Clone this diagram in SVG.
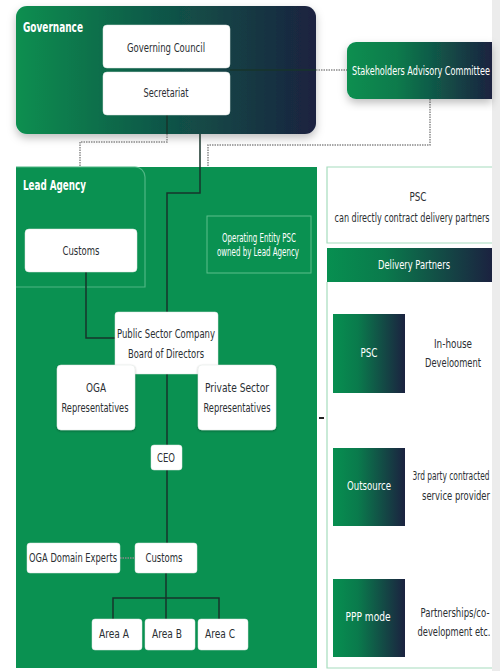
<svg xmlns="http://www.w3.org/2000/svg" width="500" height="671" viewBox="0 0 500 671">
<defs>
<linearGradient id="gov" x1="0" y1="0" x2="1" y2="0">
<stop offset="0" stop-color="#078f50"/><stop offset="0.45" stop-color="#0f5a48"/><stop offset="1" stop-color="#1b2240"/>
</linearGradient>
<linearGradient id="gb" x1="0" y1="0" x2="1" y2="0">
<stop offset="0" stop-color="#078f50"/><stop offset="0.35" stop-color="#0a7a4c"/><stop offset="1" stop-color="#1b2240"/>
</linearGradient>
<filter id="sh" x="-10%" y="-10%" width="120%" height="130%">
<feDropShadow dx="0" dy="4" stdDeviation="4" flood-color="#000" flood-opacity="0.25"/>
</filter>
<filter id="sh2" x="-10%" y="-10%" width="120%" height="130%">
<feDropShadow dx="0" dy="1" stdDeviation="1" flood-color="#000" flood-opacity="0.3"/>
</filter>
</defs>
<style>
text{font-family:"DejaVu Sans Condensed","Liberation Sans",sans-serif;font-size:13px;text-anchor:middle}
.d{fill:#2b2f33}
.w{fill:#ffffff}
.b{font-weight:bold;text-anchor:start;font-size:14px}
.box{fill:#ffffff;stroke:#dfe6e2;stroke-width:0.5}
.ln{fill:none;stroke:#17352b;stroke-width:1.5}
.dot{fill:none;stroke:#8a8a8a;stroke-width:1.5;stroke-dasharray:1.5 1}
.lg{fill:none;stroke:#a6dcbd;stroke-width:1.2}
</style>
<rect x="0" y="0" width="500" height="671" fill="#ffffff"/>
<rect x="492" y="0" width="8" height="671" fill="#ececec"/>

<g id="governance">
<rect x="16" y="6" width="300" height="128" rx="11" fill="url(#gov)" filter="url(#sh)"/>
<text transform="translate(23,32) scale(0.75,1)" class="w b" textLength="80" lengthAdjust="spacingAndGlyphs">Governance</text>
</g>

<g id="lead-agency-area">
<rect x="16" y="167" width="301" height="501" fill="#0a9151"/>
<path d="M16,167 H135 a10,10 0 0 1 10,10 V287 H16" fill="none" stroke="#4fb684" stroke-width="1.2"/>
<text transform="translate(23,190) scale(0.75,1)" class="w b" textLength="84" lengthAdjust="spacingAndGlyphs">Lead Agency</text>
</g>

<g id="connectors">
<path class="ln" d="M230,70 H316"/>
<path class="dot" d="M316,70 H347"/>
<path class="ln" d="M167,115 V134"/>
<path class="dot" d="M167,134 V142 H80 V167"/>
<path class="dot" d="M430,99 V145 H208 V167"/>
<path class="ln" d="M200,134 V193 H167 V543"/>
<path class="ln" d="M86,272 V338 H115"/>
<path class="ln" d="M166,573 V598 M113,619 V598 H219 V619 M166,598 V619"/>
<path class="dot" d="M120,558 H135" stroke="#1e2e28" stroke-dasharray="2 1.5" stroke-width="2"/>
<path d="M319,418 H324" stroke="#222" stroke-width="2"/>
</g>

<g id="governing-council">
<rect x="103" y="25" width="127" height="43" rx="4" class="box"/>
<text transform="translate(166,52) scale(0.7,1)" class="d" textLength="111.4" lengthAdjust="spacingAndGlyphs">Governing Council</text>
</g>
<g id="secretariat">
<rect x="103" y="72" width="127" height="43" rx="4" class="box"/>
<text transform="translate(166,97) scale(0.7,1)" class="d" textLength="64.3" lengthAdjust="spacingAndGlyphs">Secretariat</text>
</g>

<g id="stakeholders">
<path d="M356,42 H492 V99 H356 a9,9 0 0 1 -9,-9 V51 a9,9 0 0 1 9,-9 Z" fill="url(#gb)" filter="url(#sh)"/>
<text transform="translate(352,75) scale(0.7,1)" class="w" style="text-anchor:start" textLength="197" lengthAdjust="spacingAndGlyphs">Stakeholders Advisory Committee</text>
</g>

<g id="customs-lead">
<rect x="25" y="229" width="112" height="43" rx="4" class="box"/>
<text transform="translate(81,255) scale(0.7,1)" class="d" textLength="52.9" lengthAdjust="spacingAndGlyphs">Customs</text>
</g>

<g id="operating-entity">
<rect x="207" y="216" width="104" height="57" fill="none" stroke="#5cbf8c" stroke-width="1"/>
<text transform="translate(259,242) scale(0.7,1)" class="w" font-size="10.5" textLength="105.7" lengthAdjust="spacingAndGlyphs">Operating Entity PSC</text>
<text transform="translate(258,256) scale(0.7,1)" class="w" font-size="10.5" textLength="117.1" lengthAdjust="spacingAndGlyphs">owned by Lead Agency</text>
</g>

<g id="psc-board">
<rect x="115" y="312" width="103" height="62" rx="3" class="box"/>
<text transform="translate(166,338) scale(0.7,1)" class="d" textLength="140" lengthAdjust="spacingAndGlyphs">Public Sector Company</text>
<text transform="translate(166,358) scale(0.7,1)" class="d" textLength="108.6" lengthAdjust="spacingAndGlyphs">Board of Directors</text>
</g>

<g id="oga-reps">
<rect x="57" y="365" width="78" height="65" rx="4" class="box" filter="url(#sh2)"/>
<text transform="translate(96,392) scale(0.7,1)" class="d" textLength="28.6" lengthAdjust="spacingAndGlyphs">OGA</text>
<text transform="translate(95,412) scale(0.7,1)" class="d" textLength="95.7" lengthAdjust="spacingAndGlyphs">Representatives</text>
</g>

<g id="private-reps">
<rect x="198" y="365" width="78" height="65" rx="4" class="box" filter="url(#sh2)"/>
<text transform="translate(237,392) scale(0.7,1)" class="d" textLength="91.4" lengthAdjust="spacingAndGlyphs">Private Sector</text>
<text transform="translate(237,412) scale(0.7,1)" class="d" textLength="95.7" lengthAdjust="spacingAndGlyphs">Representatives</text>
</g>

<g id="ceo">
<rect x="151" y="445" width="31" height="25" rx="3" class="box"/>
<text transform="translate(166,462) scale(0.7,1)" class="d" textLength="25.7" lengthAdjust="spacingAndGlyphs">CEO</text>
</g>

<g id="oga-experts">
<rect x="27" y="543" width="93" height="30" rx="3" class="box"/>
<text transform="translate(73,562) scale(0.7,1)" class="d" textLength="125.7" lengthAdjust="spacingAndGlyphs">OGA Domain Experts</text>
</g>
<g id="customs-ops">
<rect x="135" y="543" width="62" height="30" rx="3" class="box"/>
<text transform="translate(164,562) scale(0.7,1)" class="d" textLength="52.9" lengthAdjust="spacingAndGlyphs">Customs</text>
</g>

<g id="area-a">
<rect x="92" y="619" width="50" height="31" rx="3" class="box"/>
<text transform="translate(114,638) scale(0.7,1)" class="d" textLength="42.9" lengthAdjust="spacingAndGlyphs">Area A</text>
</g>
<g id="area-b">
<rect x="145" y="619" width="50" height="31" rx="3" class="box"/>
<text transform="translate(167,638) scale(0.7,1)" class="d" textLength="42.9" lengthAdjust="spacingAndGlyphs">Area B</text>
</g>
<g id="area-c">
<rect x="198" y="619" width="50" height="31" rx="3" class="box"/>
<text transform="translate(220,638) scale(0.7,1)" class="d" textLength="42.9" lengthAdjust="spacingAndGlyphs">Area C</text>
</g>

<g id="psc-contract">
<path d="M492,167 H327 V243 H492" fill="#ffffff" stroke="#a6dcbd" stroke-width="1.2"/>
<text transform="translate(418,201) scale(0.7,1)" class="d" textLength="24.3" lengthAdjust="spacingAndGlyphs">PSC</text>
<text transform="translate(412,222) scale(0.62,1)" class="d" textLength="250" lengthAdjust="spacingAndGlyphs">can directly contract delivery partners</text>
</g>

<g id="delivery-partners">
<path class="lg" d="M327,282 V668 H492"/>
<rect x="327" y="248" width="165" height="34" fill="url(#gb)"/>
<text transform="translate(414,269) scale(0.7,1)" class="w" textLength="102.9" lengthAdjust="spacingAndGlyphs">Delivery Partners</text>
</g>

<g id="dp-psc">
<rect x="333" y="314" width="72" height="79" fill="url(#gb)"/>
<text transform="translate(369,357) scale(0.7,1)" class="w" textLength="24.3" lengthAdjust="spacingAndGlyphs">PSC</text>
<text transform="translate(453,348) scale(0.7,1)" class="d" textLength="54.3" lengthAdjust="spacingAndGlyphs">In-house</text>
<text transform="translate(453,367) scale(0.7,1)" class="d" textLength="80" lengthAdjust="spacingAndGlyphs">Develooment</text>
</g>

<g id="dp-outsource">
<rect x="333" y="448" width="72" height="78" fill="url(#gb)"/>
<text transform="translate(369,490) scale(0.7,1)" class="w" textLength="62.9" lengthAdjust="spacingAndGlyphs">Outsource</text>
<text transform="translate(451,480) scale(0.62,1)" class="d" textLength="124.2" lengthAdjust="spacingAndGlyphs">3rd party contracted</text>
<text transform="translate(456,500) scale(0.7,1)" class="d" textLength="97.1" lengthAdjust="spacingAndGlyphs">service provider</text>
</g>

<g id="dp-ppp">
<rect x="333" y="579" width="72" height="78" fill="url(#gb)"/>
<text transform="translate(368,621) scale(0.7,1)" class="w" textLength="64.3" lengthAdjust="spacingAndGlyphs">PPP mode</text>
<text transform="translate(455,617) scale(0.7,1)" class="d" textLength="98.6" lengthAdjust="spacingAndGlyphs">Partnerships/co-</text>
<text transform="translate(454,636) scale(0.7,1)" class="d" textLength="104.3" lengthAdjust="spacingAndGlyphs">development etc.</text>
</g>
</svg>
